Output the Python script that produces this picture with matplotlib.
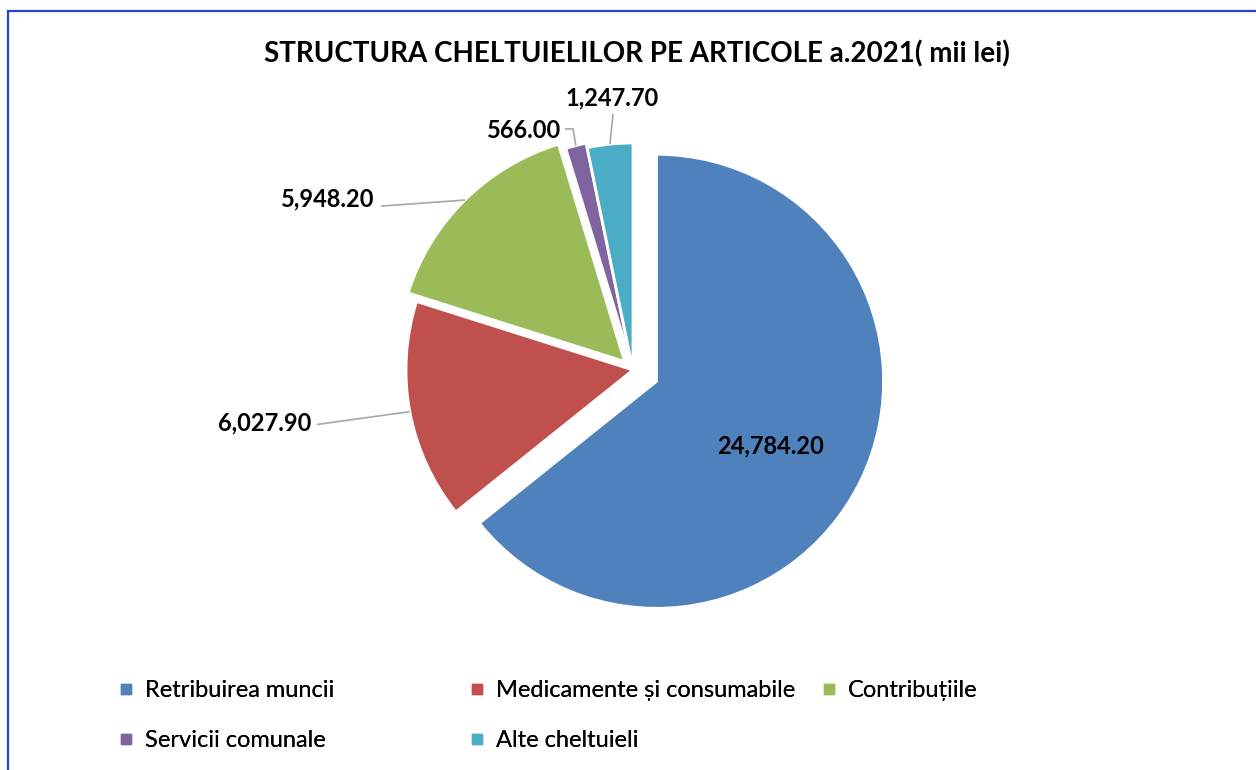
import numpy as np
import matplotlib.pyplot as plt
from matplotlib.patches import Rectangle
from matplotlib.lines import Line2D

plt.rcParams['font.family'] = ['Lato', 'DejaVu Sans']

categories = ['Retribuirea muncii', 'Medicamente și consumabile', 'Contribuțiile',
              'Servicii comunale', 'Alte cheltuieli']
values = [24784.20, 6027.90, 5948.20, 566.00, 1247.70]
colors = ['#4F81BD', '#C0504D', '#9BBB59', '#8064A2', '#4BACC6']
explode = [0.115, 0.0, 0.053, 0.02, 0.0]

W, H = 1256, 770
R = 227            # pie radius in px
cx, cy = 633, 370  # pie centre in px (from top-left)

fig = plt.figure(figsize=(W / 100, H / 100), dpi=100)
ax = fig.add_axes([0, 0, 1, 1])
wedges, _ = ax.pie(values, colors=colors, explode=explode, startangle=90,
                   counterclock=False, radius=1,
                   wedgeprops=dict(edgecolor='white', linewidth=2))
ax.set_xlim(-cx / R, (W - cx) / R)
ax.set_ylim(-(H - cy) / R, cy / R)
ax.set_aspect('auto')
ax.axis('off')


def arc_point(w):
    mid = np.deg2rad((w.theta1 + w.theta2) / 2)
    return np.array(w.center) + w.r * np.array([np.cos(mid), np.sin(mid)])


lab_kw = dict(fontsize=17, fontweight='bold', color='black')
line_kw = dict(color='#A6A6A6', lw=1.2, solid_capstyle='butt')
labels = [f'{v:,.2f}' for v in values]

# inside label for the big slice
ax.text(0.608, -0.335, labels[0], ha='center', va='center', **lab_kw)

# outside labels with leader lines
ax.text(-1.419, -0.235, labels[1], ha='right', va='center', **lab_kw)
p = arc_point(wedges[1])
ax.plot([-1.392, p[0]], [-0.240, p[1]], **line_kw)

ax.text(-1.137, 0.752, labels[2], ha='right', va='center', **lab_kw)
p = arc_point(wedges[2])
ax.plot([-1.110, p[0]], [0.722, p[1]], **line_kw)

ax.text(-0.317, 1.057, labels[3], ha='right', va='center', **lab_kw)
p = arc_point(wedges[3])
ax.plot([-0.300, -0.264, p[0]], [1.062, 1.062, p[1]], **line_kw)

ax.text(-0.093, 1.148, labels[4], ha='center', va='bottom', **lab_kw)
p = arc_point(wedges[4])
ax.plot([-0.088, p[0]], [1.128, p[1]], **line_kw)

fig.text(637 / W, 1 - 54 / H, 'STRUCTURA CHELTUIELILOR PE ARTICOLE a.2021( mii lei)',
         ha='center', va='center', fontsize=20, fontweight='bold')

# legend laid out row-wise in three fixed-width columns
handles = [Line2D([], [], marker='s', ls='none', markersize=7,
                  markerfacecolor=c, markeredgecolor=c) for c in colors]
columns = [[0, 3], [1, 4], [2]]
col_x = [120, 471, 823]
for idx, x0 in zip(columns, col_x):
    leg = fig.legend([handles[i] for i in idx], [categories[i] for i in idx],
                     loc='upper left', bbox_to_anchor=(x0 / W, 1 - 680 / H),
                     frameon=False, fontsize=17, handlelength=0.55,
                     handletextpad=0.5, labelspacing=1.24, borderpad=0,
                     borderaxespad=0)
    fig.add_artist(leg)

fig.add_artist(Rectangle((8 / W, -0.1), 1.2, 1.1 - 11 / H, transform=fig.transFigure,
                         fill=False, edgecolor='#1F45D0', lw=1.6))

fig.savefig('out.png', dpi=100)
